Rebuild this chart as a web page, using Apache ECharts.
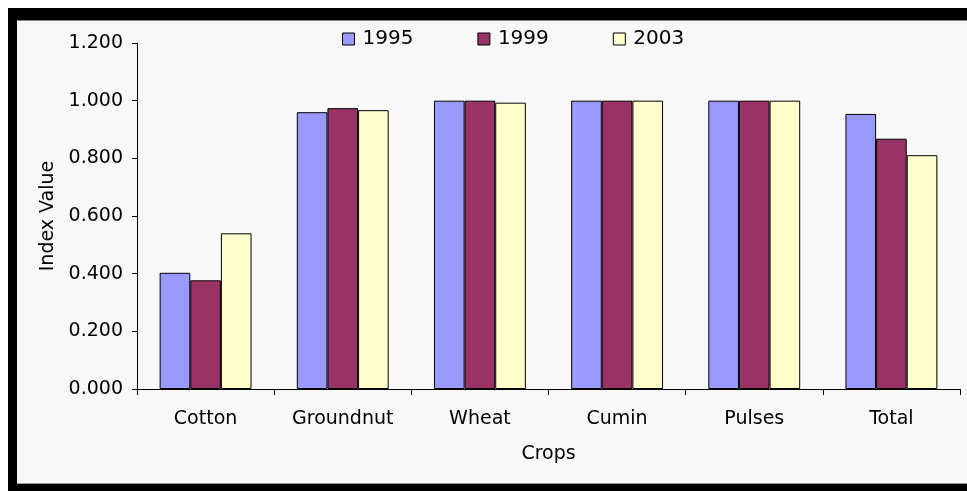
<!DOCTYPE html>
<html>
<head>
<meta charset="utf-8">
<script src="https://cdn.jsdelivr.net/npm/echarts@6/dist/echarts.min.js"></script>
<style>
html,body{margin:0;padding:0;background:#fff;overflow:hidden;}
#c{width:967px;height:491px;}
</style>
</head>
<body>
<div id="c"></div>
<script>
const categories = ['Cotton', 'Groundnut', 'Wheat', 'Cumin', 'Pulses', 'Total'];
const seriesNames = ['1995', '1999', '2003'];
const values1995 = [0.403, 0.960, 1.000, 1.000, 1.000, 0.954];
const values1999 = [0.377, 0.974, 1.000, 1.000, 1.000, 0.868];
const values2003 = [0.540, 0.967, 0.993, 1.000, 1.000, 0.811];
const yTicks = [0, 0.2, 0.4, 0.6, 0.8, 1.0, 1.2];
const colors = ['#9999ff', '#993366', '#ffffcc'];

const font = 'DejaVu Sans';
const chart = echarts.init(document.getElementById('c'));
const allValues = [values1995, values1999, values2003];
chart.setOption({
  backgroundColor: '#f8f8f8',
  animation: false,
  legend: {
    left: 342, top: 29, padding: 0,
    itemWidth: 12, itemHeight: 12, itemGap: 64,
    icon: 'rect',
    textStyle: {fontFamily: font, fontSize: 20, color: '#000', padding: [0,0,0,3]},
    itemStyle: {borderColor: '#000', borderWidth: 1},
    data: seriesNames
  },
  grid: {left: 137, right: 7, top: 43, bottom: 102, containLabel: false},
  xAxis: {
    type: 'category', data: categories,
    name: 'Crops', nameLocation: 'middle', nameGap: 56,
    nameTextStyle: {fontFamily: font, fontSize: 19, color: '#000'},
    axisLine: {lineStyle: {color: '#000', width: 1}},
    axisTick: {show: true, inside: false, length: 6, lineStyle: {color: '#000'}},
    axisLabel: {fontFamily: font, fontSize: 19, color: '#000', margin: 21}
  },
  yAxis: {
    type: 'value', min: yTicks[0], max: yTicks[yTicks.length-1], interval: 0.2,
    name: 'Index Value', nameLocation: 'middle', nameGap: 72, nameRotate: 90,
    nameTextStyle: {fontFamily: font, fontSize: 19, color: '#000'},
    axisLine: {show: true, lineStyle: {color: '#000', width: 1}},
    axisTick: {show: true, length: 5, lineStyle: {color: '#000'}},
    splitLine: {show: false},
    axisLabel: {fontFamily: font, fontSize: 19, color: '#000', margin: 14,
      formatter: v => v.toFixed(3)}
  },
  series: seriesNames.map((n, i) => ({
    name: n, type: 'bar', data: allValues[i],
    barGap: '0%', barCategoryGap: '33%',
    itemStyle: {color: colors[i], borderColor: '#000', borderWidth: 1}
  })),
  graphic: [
    {type: 'rect', shape: {x: 0, y: 0, width: 967, height: 8}, style: {fill: '#fff'}, silent: true},
    {type: 'rect', shape: {x: 0, y: 0, width: 8, height: 491}, style: {fill: '#fff'}, silent: true},
    {type: 'rect', shape: {x: 8, y: 8, width: 959, height: 12}, style: {fill: '#000'}, silent: true},
    {type: 'rect', shape: {x: 17, y: 20, width: 950, height: 1}, style: {fill: '#888'}, silent: true},
    {type: 'rect', shape: {x: 8, y: 8, width: 9, height: 483}, style: {fill: '#000'}, silent: true},
    {type: 'rect', shape: {x: 8, y: 484, width: 959, height: 7}, style: {fill: '#000'}, silent: true},
    {type: 'rect', shape: {x: 17, y: 483, width: 950, height: 1}, style: {fill: '#999'}, silent: true}
  ]
});
</script>
</body>
</html>
